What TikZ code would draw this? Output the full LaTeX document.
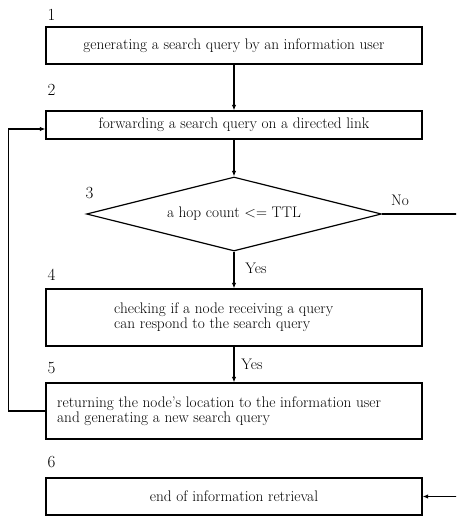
\documentclass[tikz,border=0pt]{standalone}
\usetikzlibrary{shapes.geometric,arrows.meta}
\begin{document}
\begin{tikzpicture}[x=1pt,y=-1pt,
  every node/.style={font=\fontsize{15.3}{15.5}\selectfont},
  procbox/.style={draw,line width=1.2pt,minimum width=376pt,inner sep=0pt},
  decision/.style={draw,diamond,aspect=4,line width=1.2pt,minimum width=295pt,minimum height=74pt,inner sep=0pt},
  stepnum/.style={font=\fontsize{17}{19}\selectfont,inner sep=0pt},
  flow/.style={line width=1.1pt,-{Latex[length=5.5pt,width=4.5pt]}},
  lbl/.style={inner sep=0pt}]
\useasboundingbox (0,0) rectangle (456,517);
\clip (0,0) rectangle (456,517);

% process steps
\node[procbox,minimum height=37pt] (b1) at (234,45.5) {generating a search query by an information user};
\node[procbox,minimum height=28pt] (b2) at (234,125) {forwarding a search query on a directed link};
\node[decision] (d3) at (234,214) {a hop count <= TTL};
\node[procbox,minimum height=57pt] (b4) at (234,317.5) {};
\node[anchor=west,align=left,inner sep=0pt] (t4) at (114,317)
  {checking if a node receiving a query\\can respond to the search query};
\node[procbox,minimum height=56pt] (b5) at (234,411) {};
\node[anchor=west,align=left,inner sep=0pt] (t5) at (57,411)
  {returning the node's location to the information user\\and generating a new search query};
\node[procbox,minimum height=37pt] (b6) at (234,496.5) {end of information retrieval};

% step numbers
\node[stepnum] (n1) at (51.5,14.5) {1};
\node[stepnum] (n2) at (51.5,90) {2};
\node[stepnum] (n3) at (89.5,193) {3};
\node[stepnum] (n4) at (51.5,275) {4};
\node[stepnum] (n5) at (51.5,368) {5};
\node[stepnum] (n6) at (51.5,462) {6};

% branch labels
\node[lbl] (yes1) at (256,268) {Yes};
\node[lbl] (yes2) at (252,364) {Yes};
\node[lbl] (no) at (400,200) {No};

% connectors
\coordinate (lx) at (8.5,0);
\coordinate (rx) at (462,0);
\draw[flow] (b1) -- (b2);
\draw[flow] (b2) -- (d3);
\draw[flow] (d3) -- (b4);
\draw[flow] (b4) -- (b5);
\draw[flow] (b5.west) -- (b5.west -| lx) |- ([yshift=-4pt]b2.west);
\draw[flow] (d3.east) -- (d3.east -| rx) |- (b6.east);
\end{tikzpicture}
\end{document}
